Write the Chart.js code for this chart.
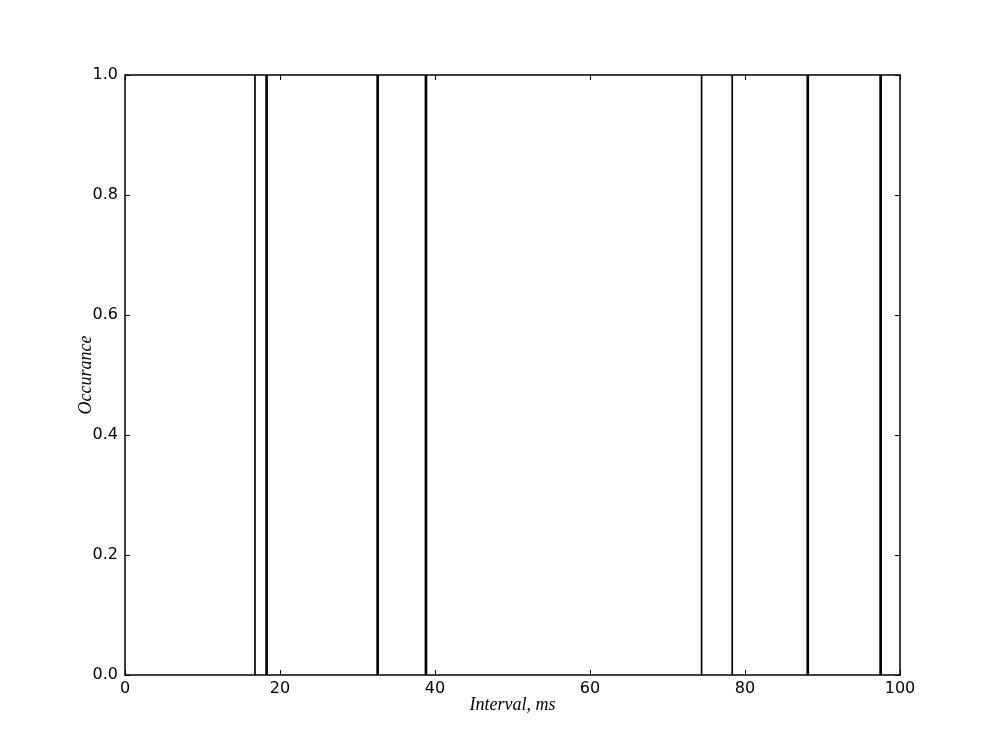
<!DOCTYPE html>
<html><head><meta charset="utf-8">
<script src="https://cdn.jsdelivr.net/npm/chart.js@4"></script>
<style>html,body{margin:0;padding:0;background:#fff}#wrap{width:1000px;height:750px}</style>
</head><body><div id="wrap"><canvas id="c" width="1000" height="750"></canvas></div>
<script>
const thinIntervals = [16.77, 74.4, 78.35];
const thinOccurrence = [1, 1, 1];
const thickIntervals = [18.27, 32.6, 38.83, 88.1, 97.5];
const thickOccurrence = [1, 1, 1, 1, 1];
const xTicks = [0, 20, 40, 60, 80, 100];
const yTicks = [0.0, 0.2, 0.4, 0.6, 0.8, 1.0];

const toPts = (xs, ys) => xs.map((x, i) => ({x: x, y: ys[i]}));

const innerTicks = {
  id: 'innerTicks',
  afterDraw(chart) {
    const {ctx, chartArea: a, scales: {x, y}} = chart;
    ctx.save();
    ctx.strokeStyle = '#000';
    ctx.lineWidth = 1;
    ctx.beginPath();
    xTicks.forEach(v => {
      const px = Math.round(x.getPixelForValue(v)) + 0.5;
      ctx.moveTo(px, a.bottom); ctx.lineTo(px, a.bottom - 5);
      ctx.moveTo(px, a.top); ctx.lineTo(px, a.top + 5);
    });
    yTicks.forEach(v => {
      const py = Math.round(y.getPixelForValue(v)) + 0.5;
      ctx.moveTo(a.left, py); ctx.lineTo(a.left + 5, py);
      ctx.moveTo(a.right, py); ctx.lineTo(a.right - 5, py);
    });
    ctx.stroke();
    ctx.lineWidth = 1.5;
    ctx.strokeRect(a.left, a.top, a.right - a.left, a.bottom - a.top);
    ctx.restore();
  }
};

new Chart(document.getElementById('c'), {
  type: 'bar',
  data: {
    datasets: [
      {data: toPts(thinIntervals, thinOccurrence), backgroundColor: '#000', barThickness: 1, grouped: false},
      {data: toPts(thickIntervals, thickOccurrence), backgroundColor: '#000', barThickness: 2, grouped: false}
    ]
  },
  options: {
    responsive: false,
    animation: false,
    layout: {padding: {top: 75, right: 100, left: 75, bottom: 34}},
    plugins: {legend: {display: false}, tooltip: {enabled: false}},
    scales: {
      x: {
        type: 'linear', min: 0, max: 100, offset: false,
        afterBuildTicks: s => { s.ticks = xTicks.map(v => ({value: v})); },
        afterFit: s => { s.height = 41; },
        grid: {display: false, drawTicks: false},
        border: {display: false},
        ticks: {color: '#000', font: {family: 'DejaVu Sans', size: 16}, padding: 4, maxRotation: 0, callback: v => String(v)},
        title: {display: true, text: 'Interval, ms', color: '#000', font: {family: 'Liberation Serif', size: 18, style: 'italic'}, padding: {top: 0, bottom: 0}}
      },
      y: {
        type: 'linear', min: 0, max: 1,
        afterBuildTicks: s => { s.ticks = yTicks.map(v => ({value: v})); },
        afterFit: s => { s.width = 50; },
        grid: {display: false, drawTicks: false},
        border: {display: false},
        ticks: {color: '#000', font: {family: 'DejaVu Sans', size: 16}, padding: 7, callback: v => v.toFixed(1)},
        title: {display: true, text: 'Occurance', color: '#000', font: {family: 'Liberation Serif', size: 18, style: 'italic'}, padding: {top: 0, bottom: 0}}
      }
    }
  },
  plugins: [innerTicks]
});
</script></body></html>
